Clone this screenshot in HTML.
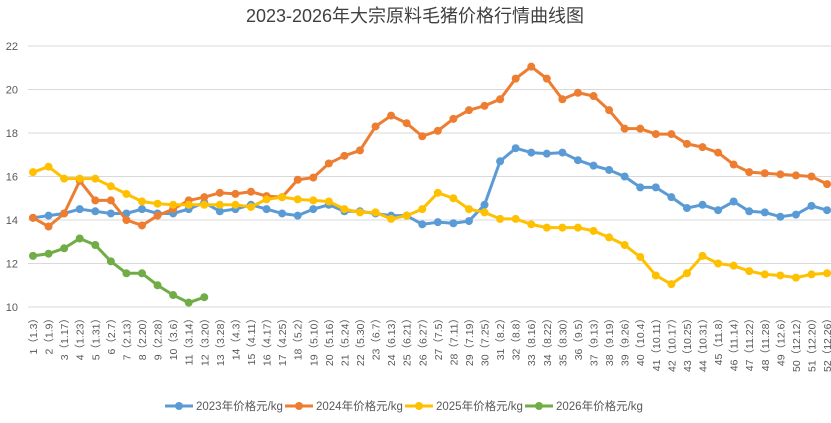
<!DOCTYPE html>
<html><head><meta charset="utf-8"><style>
body{margin:0;background:#fff;}
svg{display:block;font-family:"Liberation Sans","Noto Sans CJK SC",sans-serif;}
</style></head><body>
<svg id="chart" width="831" height="423">
<text x="415" y="22" text-anchor="middle" font-size="18" fill="#404040">2023-2026年大宗原料毛猪价格行情曲线图</text>
<g id="grid"></g><g id="xlabels"></g><g id="series"></g><g id="legend"></g>
</svg>
<script>
const categories=["1（1.3）","2（1.9）","3（1.17）","4（1.23）","5（1.31）","6（2.7）","7（2.13）","8（2.20）","9（2.28）","10（3.6）","11（3.14）","12（3.20）","13（3.28）","14（4.3）","15（4.11）","16（4.17）","17（4.25）","18（5.2）","19（5.10）","20（5.16）","21（5.24）","22（5.30）","23（6.7）","24（6.13）","25（6.21）","26（6.27）","27（7.5）","28（7.11）","29（7.19）","30（7.25）","31（8.2）","32（8.8）","33（8.16）","34（8.22）","35（8.30）","36（9.5）","37（9.13）","38（9.19）","39（9.26）","40（10.4）","41（10.11）","42（10.17）","43（10.25）","44（10.31）","45（11.8）","46（11.14）","47（11.22）","48（11.28）","49（12.6）","50（12.12）","51（12.20）","52（12.26）"];
const yTicks=[10,12,14,16,18,20,22];
const s2023=[14.1,14.2,14.3,14.5,14.4,14.3,14.3,14.5,14.3,14.3,14.5,14.8,14.4,14.5,14.7,14.5,14.3,14.2,14.5,14.7,14.4,14.4,14.3,14.2,14.2,13.8,13.9,13.85,13.95,14.7,16.7,17.3,17.1,17.05,17.1,16.75,16.5,16.3,16.0,15.5,15.5,15.05,14.55,14.7,14.45,14.85,14.4,14.35,14.15,14.25,14.65,14.45];
const s2024=[14.1,13.7,14.3,15.8,14.9,14.9,14.0,13.75,14.2,14.5,14.9,15.05,15.25,15.2,15.3,15.1,15.05,15.85,15.95,16.6,16.95,17.2,18.3,18.8,18.45,17.85,18.1,18.65,19.05,19.25,19.55,20.5,21.05,20.5,19.55,19.85,19.7,19.05,18.2,18.2,17.95,17.95,17.5,17.35,17.1,16.55,16.2,16.15,16.1,16.05,16.0,15.65];
const s2025=[16.2,16.45,15.9,15.9,15.9,15.55,15.2,14.85,14.75,14.7,14.7,14.7,14.7,14.7,14.6,14.95,15.05,14.95,14.9,14.85,14.5,14.35,14.35,14.05,14.2,14.5,15.25,15.0,14.5,14.35,14.05,14.05,13.8,13.65,13.65,13.65,13.5,13.2,12.85,12.3,11.45,11.05,11.55,12.35,12.0,11.9,11.65,11.5,11.45,11.35,11.5,11.55];
const s2026=[12.35,12.45,12.7,13.15,12.85,12.1,11.55,11.55,11.0,10.55,10.2,10.45];
const seriesNames=["2023年价格元/kg","2024年价格元/kg","2025年价格元/kg","2026年价格元/kg"];
const colors=["#5b9bd5","#ed7d31","#ffc000","#70ad47"];
const NS="http://www.w3.org/2000/svg";
const x0=33,dx=15.57,yTop=46,yBot=307,yMin=10,yMax=22;
const X=i=>x0+i*dx;
const Y=v=>yBot-(v-yMin)/(yMax-yMin)*(yBot-yTop);
function el(t,a,p){const e=document.createElementNS(NS,t);for(const k in a)e.setAttribute(k,a[k]);p.appendChild(e);return e;}
const grid=document.getElementById('grid');
yTicks.forEach(v=>{
 const l=el('line',{x1:28,x2:831,y1:Y(v),y2:Y(v),stroke:'#d9d9d9','stroke-width':1},grid);
 
 
 const t=el('text',{x:18,y:Y(v)+4,'text-anchor':'end','font-size':11,fill:'#595959'},grid);
 t.textContent=v;
 
 
});
const xl=document.getElementById('xlabels');
categories.forEach((c,i)=>{
 const t=el('text',{x:0,y:0,'text-anchor':'end','font-size':10.5,fill:'#595959',transform:`translate(${X(i)+4},313) rotate(-90)`},xl);
 t.textContent=c;
 
 
});
const sg=document.getElementById('series');
[s2023,s2024,s2025,s2026].forEach((s,k)=>{
 const g=el('g',{},sg);
 
 
 const p=el('polyline',{points:s.map((v,i)=>X(i)+','+Y(v)).join(' '),fill:'none',stroke:colors[k],'stroke-width':3,'stroke-linejoin':'round'},g);
 
 
 s.forEach((v,i)=>{
  const m=el('circle',{cx:X(i),cy:Y(v),r:4,fill:colors[k]},g);
  
  
 });
});
const lg=document.getElementById('legend');
const lx=[165,285,405,525];
seriesNames.forEach((n,k)=>{
 const g=el('g',{},lg);
 
 
 el('line',{x1:lx[k],x2:lx[k]+28,y1:406,y2:406,stroke:colors[k],'stroke-width':3},g);
 el('circle',{cx:lx[k]+14,cy:406,r:4,fill:colors[k]},g);
 const t=el('text',{x:lx[k]+31,y:410,'font-size':11.5,fill:'#595959'},g);
 t.textContent=n;
});
</script>
</body></html>
